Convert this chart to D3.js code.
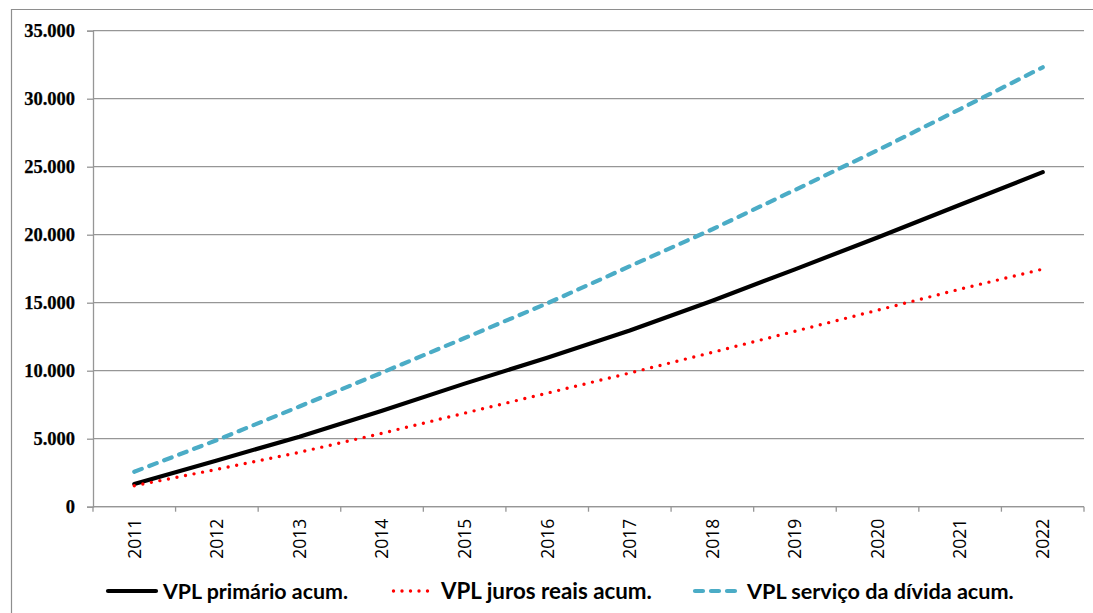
<!DOCTYPE html>
<html><head><meta charset="utf-8">
<script src="https://cdn.jsdelivr.net/npm/d3@7/dist/d3.min.js"></script>
<style>body{margin:0;background:#fff;} svg{display:block;}</style>
</head><body>
<svg id="chart" width="1093" height="613"></svg>
<script>
const years = ["2011","2012","2013","2014","2015","2016","2017","2018","2019","2020","2021","2022"];
const primario = [1670, 3400, 5150, 7050, 9050, 10950, 12950, 15150, 17450, 19800, 22200, 24600];
const juros    = [1540, 2750, 4000, 5400, 6880, 8350, 9830, 11350, 12900, 14450, 16000, 17470];
const servico  = [2570, 4900, 7370, 9860, 12400, 14950, 17680, 20400, 23290, 26210, 29240, 32310];
const yTicks = [0, 5000, 10000, 15000, 20000, 25000, 30000, 35000];
const seriesNames = ["VPL primário acum.", "VPL juros reais acum.", "VPL serviço da dívida acum."];

const svg = d3.select("#chart");
const L = 93, R = 1084, T = 30.7, B = 506.7;
const x = d3.scaleBand().domain(years).range([L, R]).padding(0);
const y = d3.scaleLinear().domain([0, 35000]).range([B, T]);
const loc = d3.formatLocale({decimal: ",", thousands: ".", grouping: [3], currency: ["R$", ""]});
const fmt = loc.format(",.0f");
const grid = "#969696";

// outer frame
svg.append("path").attr("d", "M11.5,613 V9.5 H1093")
  .attr("fill", "none").attr("stroke", "#8e8e8e").attr("stroke-width", 1.2);

// gridlines
svg.append("g").selectAll("line").data(yTicks).join("line")
  .attr("x1", L).attr("x2", R).attr("y1", d => y(d)).attr("y2", d => y(d))
  .attr("stroke", grid).attr("stroke-width", 1.3);

// y axis
const yAxis = svg.append("g").attr("transform", `translate(${L},0)`)
  .call(d3.axisLeft(y).tickValues(yTicks).tickFormat(fmt).tickSize(6).tickPadding(12));
yAxis.select(".domain").attr("stroke", grid).attr("stroke-width", 1.3);
yAxis.selectAll(".tick line").attr("stroke", grid).attr("stroke-width", 1.3);
yAxis.selectAll(".tick text").attr("font-family", "'Liberation Serif', 'Times New Roman', serif")
  .attr("font-weight", "bold").attr("font-size", 18.5).attr("fill", "#000")
  .attr("stroke", "#000").attr("stroke-width", 0.25);

// x axis (ticks between categories)
const xg = svg.append("g").attr("transform", `translate(0,${B})`);
xg.append("line").attr("x1", L).attr("x2", R).attr("stroke", grid).attr("stroke-width", 1.3);
const edges = years.map(d => x(d)).concat([x(years[years.length - 1]) + x.bandwidth()]);
xg.selectAll("line.tk").data(edges).join("line").attr("class", "tk")
  .attr("x1", d => d).attr("x2", d => d).attr("y1", 0).attr("y2", 5)
  .attr("stroke", grid).attr("stroke-width", 1.3);
xg.selectAll("text").data(years).join("text")
  .attr("transform", d => `translate(${x(d) + x.bandwidth() / 2},12) rotate(-90)`)
  .attr("text-anchor", "end").attr("dy", "0.36em")
  .attr("font-family", "'Open Sans', sans-serif").attr("font-size", 17.5).attr("fill", "#000")
  .text(d => d);

// lines
const cx = d => x(d) + x.bandwidth() / 2;
const line = d3.line().x((d, i) => cx(years[i])).y(d => y(d));
const styles = [
  {data: primario, color: "#000000", width: 4.2, dash: null, cap: "round"},
  {data: juros, color: "#ff0000", width: 3.4, dash: "0,8.7", cap: "round"},
  {data: servico, color: "#4bacc6", width: 4.2, dash: "8,8", cap: "round"}
];
styles.forEach(s => {
  svg.append("path").datum(s.data).attr("d", line)
    .attr("fill", "none").attr("stroke", s.color).attr("stroke-width", s.width)
    .attr("stroke-linecap", s.cap).attr("stroke-linejoin", "round")
    .attr("stroke-dasharray", s.dash);
});

// legend
const legY = 591;
const legItems = [
  {name: seriesNames[0], x1: 108, x2: 156, tx: 163, tw: 185, style: styles[0], dash: null},
  {name: seriesNames[1], x1: 393.5, x2: 436, tx: 441, tw: 211, style: styles[1], dash: "0,8.5"},
  {name: seriesNames[2], x1: 695, x2: 738, tx: 747, tw: 267, style: styles[2], dash: "8,8"}
];
legItems.forEach(it => {
  svg.append("line").attr("x1", it.x1).attr("x2", it.x2).attr("y1", legY).attr("y2", legY)
    .attr("stroke", it.style.color).attr("stroke-width", it.style.width)
    .attr("stroke-linecap", it.style.cap).attr("stroke-dasharray", it.dash);
  const t = svg.append("text").attr("x", it.tx).attr("y", legY).attr("dy", "0.36em")
    .attr("font-family", "Lato, 'Open Sans', sans-serif").attr("font-weight", "bold")
    .attr("font-size", 20).attr("fill", "#000").text(it.name);
  const w = t.node().getComputedTextLength();
  if (w > 0) t.attr("font-size", 20 * it.tw / w);
});
</script>
</body></html>
